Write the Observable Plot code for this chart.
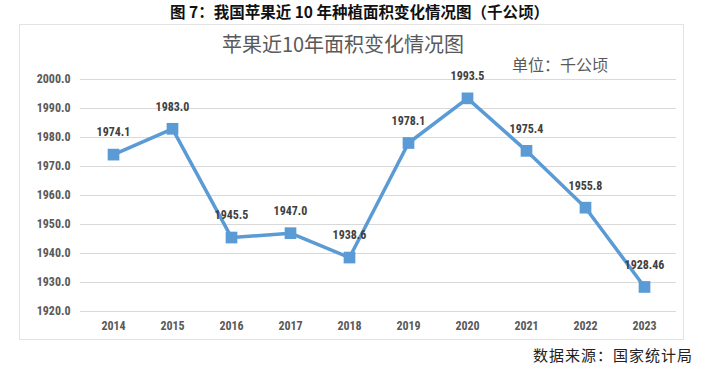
<!DOCTYPE html>
<html><head><meta charset="utf-8">
<script src="https://cdn.jsdelivr.net/npm/d3@7"></script>
<script src="https://cdn.jsdelivr.net/npm/@observablehq/plot@0.6"></script>
<style>
html,body{margin:0;padding:0;background:#fff;width:701px;height:365px;overflow:hidden;position:relative;font-family:"Noto Sans CJK SC",sans-serif;}
#outer{position:absolute;left:0;width:701px;top:0px;text-align:center;font-size:15.5px;line-height:normal;font-weight:bold;color:#111;padding-left:18px;box-sizing:border-box;}
#box{position:absolute;left:19px;top:24px;width:665px;height:316px;border:1px solid #e3e3e3;box-sizing:border-box;}
#title{position:absolute;left:0;width:686px;top:29px;text-align:center;font-size:20px;color:#595959;}
#unit{position:absolute;left:512px;top:52px;font-size:16px;color:#595959;}
#src{position:absolute;right:8px;top:346px;font-size:15px;line-height:18px;color:#222;letter-spacing:1px;}
#chart{position:absolute;left:0;top:0;}
</style></head><body>
<div id="box"></div>
<div id="outer">图 7：我国苹果近 10 年种植面积变化情况图（千公顷）</div>
<div id="title">苹果近10年面积变化情况图</div>
<div id="unit">单位：千公顷</div>
<div id="chart"></div>
<div id="src">数据来源：国家统计局</div>
<script>
const years = ["2014","2015","2016","2017","2018","2019","2020","2021","2022","2023"];
const area = [1974.1,1983.0,1945.5,1947.0,1938.6,1978.1,1993.5,1975.4,1955.8,1928.46];
const labels = ["1974.1","1983.0","1945.5","1947.0","1938.6","1978.1","1993.5","1975.4","1955.8","1928.46"];
const yTicks = [1920,1930,1940,1950,1960,1970,1980,1990,2000];

const data = years.map((y,i)=>({year:y, value:area[i], label:labels[i]}));
const numFont = "'Liberation Sans Narrow','Roboto Condensed','DejaVu Sans Condensed',sans-serif";
const blue = "#5b9bd5";

const plot = Plot.plot({
  width: 701, height: 365,
  marginLeft: 80, marginRight: 25, marginTop: 79, marginBottom: 54,
  style: {background: "transparent", fontFamily: numFont},
  x: {type: "point", domain: years, label: null},
  y: {domain: [1920, 2000], label: null},
  marks: [
    Plot.ruleY(yTicks, {stroke: "#d9d9d9", strokeWidth: 1}),
    Plot.axisY({ticks: yTicks, tickFormat: d => d.toFixed(1), tickSize: 0, tickPadding: 10, fontSize: 12, fontWeight: "bold", fill: "#595959", label: null}),
    Plot.axisX({tickSize: 0, tickPadding: 10, fontSize: 12, fontWeight: "bold", fill: "#595959", label: null}),
    Plot.line(data, {x: "year", y: "value", stroke: blue, strokeWidth: 3.5}),
    Plot.dot(data, {x: "year", y: "value", symbol: "square", r: 6.6, fill: blue, stroke: "none"}),
    Plot.text(data, {x: "year", y: "value", text: "label", dy: -22, fontSize: 12, fontWeight: "bold", fill: "#404040"})
  ]
});
document.getElementById("chart").appendChild(plot);
</script>
</body></html>
